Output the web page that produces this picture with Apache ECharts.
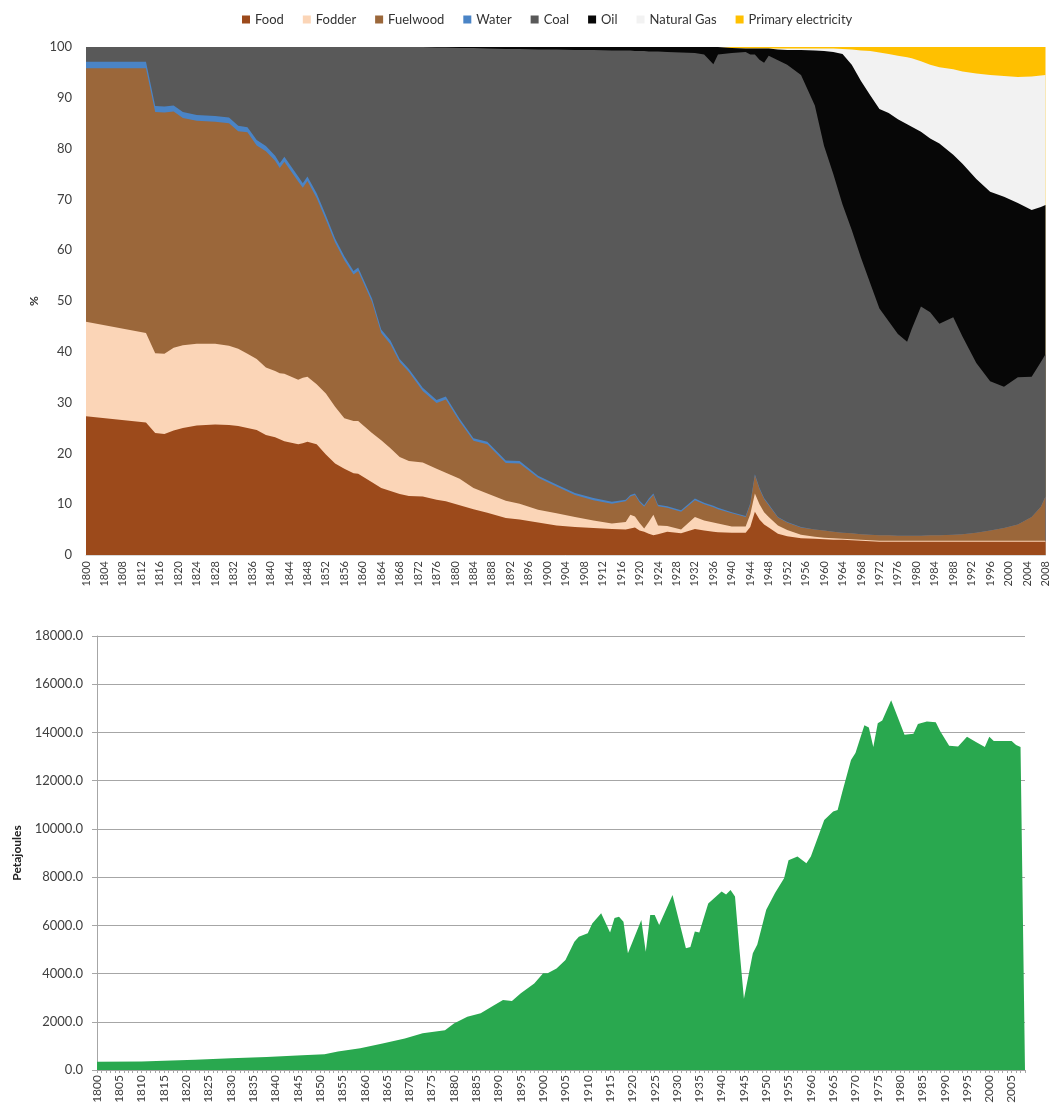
<!DOCTYPE html>
<html>
<head>
<meta charset="utf-8">
<title>Energy consumption shares and total</title>
<script src="https://cdn.jsdelivr.net/npm/echarts@6.0.0/dist/echarts.min.js"></script>
<style>
  html, body { margin: 0; padding: 0; background: #ffffff; }
  #chart { width: 1051px; height: 1106px; }
</style>
</head>
<body>
<div id="chart"></div>
<script>
// top chart: share of each carrier (%), sampled at these years
const shareYears = [1800,1813,1815,1817,1819,1821,1824,1828,1831,1833,
  1835,1837,1839,1841,1842,1843,1846,1847,1848,1850,
  1852,1854,1856,1858,1859,1862,1864,1866,1868,1870,
  1873,1876,1878,1881,1884,1887,1891,1894,1898,1902,
  1906,1910,1914,1917,1918,1919,1920,1921,1922,1923,
  1924,1926,1929,1932,1934,1936,1937,1940,1943,1944,
  1945,1946,1947,1948,1950,1952,1955,1958,1960,1962,
  1964,1966,1968,1970,1972,1974,1976,1978,1979,1981,
  1983,1985,1988,1990,1993,1996,1999,2002,2005,2007,
  2008];

const food = [27.3,26.1,24.0,23.8,24.5,25.0,25.5,25.7,25.6,25.4,
  25.0,24.6,23.6,23.2,22.8,22.4,21.8,22.0,22.3,21.8,
  19.8,18.0,17.0,16.1,16.0,14.3,13.2,12.6,12.0,11.6,
  11.5,10.9,10.6,9.8,9.0,8.3,7.3,7.0,6.4,5.8,
  5.5,5.3,5.1,5.0,5.2,5.4,4.8,4.6,4.2,3.9,
  4.1,4.6,4.3,5.1,4.8,4.6,4.5,4.4,4.4,5.5,
  8.5,7.0,6.0,5.4,4.2,3.7,3.3,3.2,3.1,3.0,
  3.0,2.9,2.8,2.7,2.6,2.6,2.6,2.6,2.6,2.6,
  2.6,2.6,2.6,2.6,2.6,2.6,2.6,2.6,2.6,2.6,
  2.6];

const fodder = [18.6,17.6,15.7,15.8,16.3,16.3,16.1,15.9,15.6,15.2,
  14.6,14.0,13.3,13.0,13.0,13.3,12.7,12.9,12.8,11.8,
  12.0,11.2,9.9,10.3,10.4,9.7,9.4,8.4,7.3,6.9,
  6.7,6.1,5.6,5.2,4.2,3.8,3.4,3.1,2.5,2.4,
  2.0,1.5,1.1,1.5,2.7,2.2,1.5,0.6,2.3,4.0,
  1.7,1.1,0.7,2.4,2.0,1.8,1.7,1.2,1.2,2.5,
  3.6,3.0,2.4,2.1,1.6,1.2,0.7,0.4,0.3,0.3,
  0.2,0.2,0.2,0.2,0.2,0.2,0.2,0.2,0.2,0.2,
  0.2,0.2,0.2,0.2,0.2,0.2,0.2,0.2,0.2,0.2,
  0.2];

const fuelwood = [49.9,52.1,47.5,47.5,46.5,44.7,43.9,43.7,43.8,42.8,
  43.6,42.0,42.6,41.4,40.4,41.7,39.0,37.4,38.5,36.7,
  34.2,32.3,31.1,28.8,29.5,25.8,21.1,20.5,18.7,17.5,
  14.1,12.9,14.4,11.3,9.3,9.7,7.4,7.9,6.3,5.3,
  4.3,4.0,3.9,4.1,3.6,4.2,4.1,4.3,4.3,3.9,
  3.8,3.6,3.5,3.3,3.2,3.0,2.8,2.6,1.9,2.0,
  3.6,3.0,2.6,2.3,1.6,1.5,1.4,1.4,1.4,1.3,
  1.2,1.2,1.1,1.1,1.1,1.1,1.0,1.0,1.0,1.0,
  1.1,1.1,1.2,1.3,1.6,2.0,2.5,3.2,4.7,6.7,
  8.7];

const water = [1.3,1.3,1.2,1.2,1.2,1.2,1.1,1.1,1.1,1.1,
  1.0,1.1,1.0,1.0,0.9,1.0,1.0,0.9,0.9,0.9,
  0.9,0.8,0.8,0.7,0.7,0.7,0.7,0.7,0.6,0.6,
  0.6,0.6,0.6,0.5,0.5,0.5,0.5,0.5,0.4,0.4,
  0.4,0.4,0.4,0.3,0.3,0.3,0.3,0.3,0.3,0.3,
  0.3,0.3,0.3,0.3,0.3,0.3,0.3,0.2,0.2,0.2,
  0.2,0.2,0.2,0.2,0.1,0.1,0.1,0,0,0,
  0,0,0,0,0,0,0,0,0,0,
  0,0,0,0,0,0,0,0,0,0,
  0];

const coal = [2.9,2.9,11.6,11.7,11.5,12.8,13.4,13.6,13.9,15.5,
  15.8,18.3,19.5,21.4,22.9,21.6,25.5,26.8,25.5,28.8,
  33.1,37.7,41.2,44.1,43.4,49.5,55.6,57.8,61.4,63.4,
  67.1,69.4,68.7,73.0,76.8,77.4,81.0,81.1,83.9,85.6,
  87.2,88.2,88.8,88.4,87.5,87.1,88.5,89.4,88.0,87.0,
  89.2,89.4,90.1,87.7,88.2,86.9,89.2,90.4,91.3,88.3,
  82.6,84.3,85.7,88.3,89.9,90.0,89.0,83.5,75.7,70.4,
  64.6,59.7,54.4,49.5,44.6,42.1,39.7,38.2,40.7,45.1,
  43.9,41.6,42.8,38.9,33.4,29.4,27.8,29.0,27.6,28.5,
  28.0];

const oil = [0,0,0,0,0,0,0,0,0,0,
  0,0,0,0,0,0,0,0,0,0,
  0,0,0,0,0,0,0,0,0,0,
  0,0.1,0.1,0.2,0.2,0.3,0.4,0.4,0.5,0.5,
  0.6,0.6,0.7,0.7,0.7,0.8,0.8,0.8,0.9,0.9,
  0.9,1.0,1.1,1.2,1.5,3.4,1.5,1.0,0.7,1.2,
  1.2,2.2,2.8,1.4,2.1,2.9,4.9,10.8,18.7,24.0,
  29.6,32.5,34.8,37.0,39.3,41.0,42.3,42.8,39.8,34.4,
  34.2,35.5,32.0,34.0,36.2,37.3,37.4,34.3,32.8,30.5,
  29.4];

const naturalGas = [0,0,0,0,0,0,0,0,0,0,
  0,0,0,0,0,0,0,0,0,0,
  0,0,0,0,0,0,0,0,0,0,
  0,0,0,0,0,0,0,0,0,0,
  0,0,0,0,0,0,0,0,0,0,
  0,0,0,0,0,0,0,0,0,0,
  0,0,0,0,0.2,0.3,0.3,0.4,0.5,0.7,
  1.0,3.0,6.0,8.7,11.1,11.6,12.5,13.2,13.5,13.9,
  14.5,15.0,16.8,18.2,20.8,23.0,23.8,24.8,26.3,25.9,
  25.6];

const primaryElectricity = [0,0,0,0,0,0,0,0,0,0,
  0,0,0,0,0,0,0,0,0,0,
  0,0,0,0,0,0,0,0,0,0,
  0,0,0,0,0,0,0,0,0,0,
  0,0,0,0,0,0,0,0,0,0,
  0,0,0,0,0,0,0,0.2,0.3,0.3,
  0.3,0.3,0.3,0.3,0.3,0.3,0.3,0.3,0.3,0.3,
  0.4,0.5,0.7,0.8,1.1,1.4,1.7,2.0,2.2,2.8,
  3.5,4.0,4.4,4.8,5.2,5.5,5.7,5.9,5.8,5.6,
  5.5];

// bottom chart: total energy use (Petajoules)
const pjYears = [1800,1810,1815,1822,1830,1838,1846,1851,1854,1859,
  1864,1869,1873,1878,1880,1883,1886,1889,1891,1893,
  1895,1898,1900,1901,1903,1905,1907,1908,1910,1911,
  1913,1915,1916,1917,1918,1919,1922,1923,1924,1925,
  1926,1929,1932,1933,1934,1935,1937,1940,1941,1942,
  1943,1944,1945,1946,1947,1948,1950,1952,1954,1955,
  1957,1959,1960,1963,1965,1966,1967,1969,1970,1972,
  1973,1974,1975,1976,1978,1981,1983,1984,1986,1988,
  1989,1991,1993,1995,1997,1999,2000,2001,2003,2005,
  2006,2007,2008];
const pjValues = [345,350,385,430,485,540,610,650,770,900,
  1100,1310,1520,1650,1930,2210,2350,2690,2900,2860,
  3180,3590,4010,4010,4210,4560,5320,5530,5670,6080,
  6500,5700,6300,6360,6150,4840,6220,4900,6430,6430,
  6010,7260,5050,5100,5740,5700,6910,7400,7280,7470,
  7200,5000,2950,3900,4840,5200,6650,7350,7950,8700,
  8850,8570,8850,10370,10720,10780,11500,12860,13150,14300,
  14200,13400,14380,14500,15340,13900,13950,14350,14450,14420,
  14050,13450,13420,13820,13600,13400,13820,13650,13640,13650,
  13480,13400,0];

const seriesNames = ['Food', 'Fodder', 'Fuelwood', 'Water', 'Coal', 'Oil', 'Natural Gas', 'Primary electricity'];
const seriesColors = ['#9c4a1b', '#fbd5b7', '#9b673a', '#4a84c6', '#595959', '#070707', '#f2f2f2', '#ffc000'];
const shareData = [food, fodder, fuelwood, water, coal, oil, naturalGas, primaryElectricity];

const FONT = 'Lato, "Open Sans", sans-serif';
const labelColor = '#404040';

const chart = echarts.init(document.getElementById('chart'), null, { renderer: 'canvas' });

// running totals: each band is drawn from the axis up to its cumulative top,
// lower bands painted over the higher ones
const cumulative = [];
shareData.forEach((arr, i) => {
  cumulative.push(arr.map((v, k) => (i === 0 ? v : cumulative[i - 1][k] + v)));
});

const topSeries = seriesNames.map((name, i) => ({
  name: name,
  type: 'line',
  xAxisIndex: 0,
  yAxisIndex: 0,
  z: 20 - i,
  data: shareYears.map((yr, k) => [yr, Math.min(100, +cumulative[i][k].toFixed(2))]),
  symbol: 'none',
  lineStyle: { width: 0 },
  itemStyle: { color: seriesColors[i] },
  areaStyle: { color: seriesColors[i], opacity: 1 }
}));

const option = {
  animation: false,
  backgroundColor: '#ffffff',
  textStyle: { fontFamily: FONT },
  legend: {
    data: seriesNames,
    top: 8,
    left: 237,
    icon: 'rect',
    itemWidth: 8,
    itemHeight: 8,
    itemGap: 19,
    textStyle: { fontSize: 13, color: '#333333', fontFamily: FONT }
  },
  grid: [
    { left: 86, top: 47, width: 961, height: 508 },
    { left: 97, top: 636, width: 928, height: 434 }
  ],
  xAxis: [
    {
      type: 'value',
      gridIndex: 0,
      min: 1800,
      max: 2008,
      interval: 4,
      axisLine: { show: true, lineStyle: { color: '#d9d9d9' } },
      axisTick: { show: false },
      splitLine: { show: false },
      axisLabel: {
        rotate: 90, fontSize: 11, color: labelColor, margin: 6, fontFamily: FONT,
        formatter: v => String(v)
      }
    },
    {
      type: 'value',
      gridIndex: 1,
      min: 1800,
      max: 2008,
      interval: 1,
      axisLine: { show: true, lineStyle: { color: '#a6a6a6' } },
      axisTick: { show: true, length: 3, lineStyle: { color: '#a6a6a6' } },
      splitLine: { show: false },
      axisLabel: {
        rotate: 90,
        fontSize: 12,
        color: labelColor,
        margin: 5,
        fontFamily: FONT,
        formatter: v => (v % 5 === 0 && v <= 2005 ? String(v) : '')
      }
    }
  ],
  yAxis: [
    {
      type: 'value',
      gridIndex: 0,
      min: 0,
      max: 100,
      interval: 10,
      name: '%',
      nameLocation: 'middle',
      nameGap: 46,
      nameMoveOverlap: false,
      nameRotate: 90,
      nameTextStyle: { fontSize: 12, color: '#333333', fontWeight: 'bold' },
      axisLine: { show: false },
      axisTick: { show: false },
      splitLine: { show: false },
      axisLabel: { fontSize: 13, color: labelColor, margin: 14, fontFamily: FONT }
    },
    {
      type: 'value',
      gridIndex: 1,
      min: 0,
      max: 18000,
      interval: 2000,
      name: 'Petajoules',
      nameLocation: 'middle',
      nameGap: 74,
      nameRotate: 90,
      nameTextStyle: { fontSize: 12, color: '#222222', fontWeight: 'bold' },
      axisLine: { show: true, lineStyle: { color: '#a6a6a6' } },
      axisTick: { show: true, length: 5, lineStyle: { color: '#a6a6a6' } },
      splitLine: { show: true, lineStyle: { color: '#a6a6a6', width: 1 } },
      axisLabel: {
        fontSize: 13,
        color: labelColor,
        margin: 14,
        fontFamily: FONT,
        formatter: v => v.toFixed(1)
      }
    }
  ],
  series: topSeries.concat([
    {
      name: 'Total',
      type: 'line',
      xAxisIndex: 1,
      yAxisIndex: 1,
      data: pjYears.map((yr, k) => [yr, pjValues[k]]),
      symbol: 'none',
      lineStyle: { width: 0 },
      itemStyle: { color: '#29a84f' },
      areaStyle: { color: '#29a84f', opacity: 1 }
    }
  ])
};

chart.setOption(option);
</script>
</body>
</html>
